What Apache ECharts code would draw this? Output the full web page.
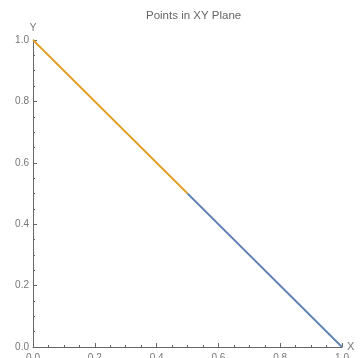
<!DOCTYPE html>
<html><head><meta charset="utf-8">
<script src="https://cdn.jsdelivr.net/npm/echarts@6/dist/echarts.min.js"></script>
<style>html,body{margin:0;padding:0;background:#fff}#c{width:361px;height:358px}</style>
</head><body><div id="c"></div>
<script>
const titleText = "Points in XY Plane";
const xName = "X", yName = "Y";
const upperX = [0, 0.5];
const upperY = [1, 0.5];
const lowerX = [0.5, 1];
const lowerY = [0.5, 0];
const ticks = [0, 0.2, 0.4, 0.6, 0.8, 1.0];

const chart = echarts.init(document.getElementById('c'), null, {renderer: 'canvas'});
const font = 'Liberation Sans, Arial';
const axisCommon = {
  type: 'value', min: ticks[0], max: ticks[ticks.length-1], interval: 0.2,
  axisLine: {show: true, onZero: false, lineStyle: {color: '#666', width: 1}},
  axisTick: {show: true, inside: true, length: 4, lineStyle: {color: '#666'}},
  minorTick: {show: true, splitNumber: 4, length: 2, lineStyle: {color: '#666'}},
  splitLine: {show: false},
  axisLabel: {color: '#777', fontSize: 10, fontFamily: font, margin: 4,
    formatter: v => v.toFixed(1)},
  nameTextStyle: {color: '#777', fontSize: 10, fontFamily: font}
};
chart.setOption({
  animation: false,
  title: {text: titleText, left: 141, top: 5,
    textStyle: {color: '#666', fontSize: 11.5, fontWeight: 'normal', fontFamily: font}},
  grid: {left: 33, top: 40, right: 19, bottom: 11, containLabel: false, outerBoundsMode: 'none'},
  xAxis: Object.assign({}, axisCommon, {name: xName, nameLocation: 'end', nameGap: 5,
    nameTextStyle: {color: '#777', fontSize: 11, fontFamily: font},
    axisLabel: Object.assign({}, axisCommon.axisLabel, {margin: 6})}),
  yAxis: Object.assign({}, axisCommon, {name: yName, nameLocation: 'end', nameGap: 7,
    nameTextStyle: {color: '#777', fontSize: 10, fontFamily: font, align: 'center'}}),
  series: [
    {type: 'line', data: upperX.map((x,i)=>[x, upperY[i]]), showSymbol: false,
      lineStyle: {color: '#E19C24', width: 1.8}, itemStyle: {color: '#E19C24'}},
    {type: 'line', data: lowerX.map((x,i)=>[x, lowerY[i]]), showSymbol: false,
      lineStyle: {color: '#5E81B5', width: 1.8}, itemStyle: {color: '#5E81B5'}}
  ]
});
</script></body></html>
